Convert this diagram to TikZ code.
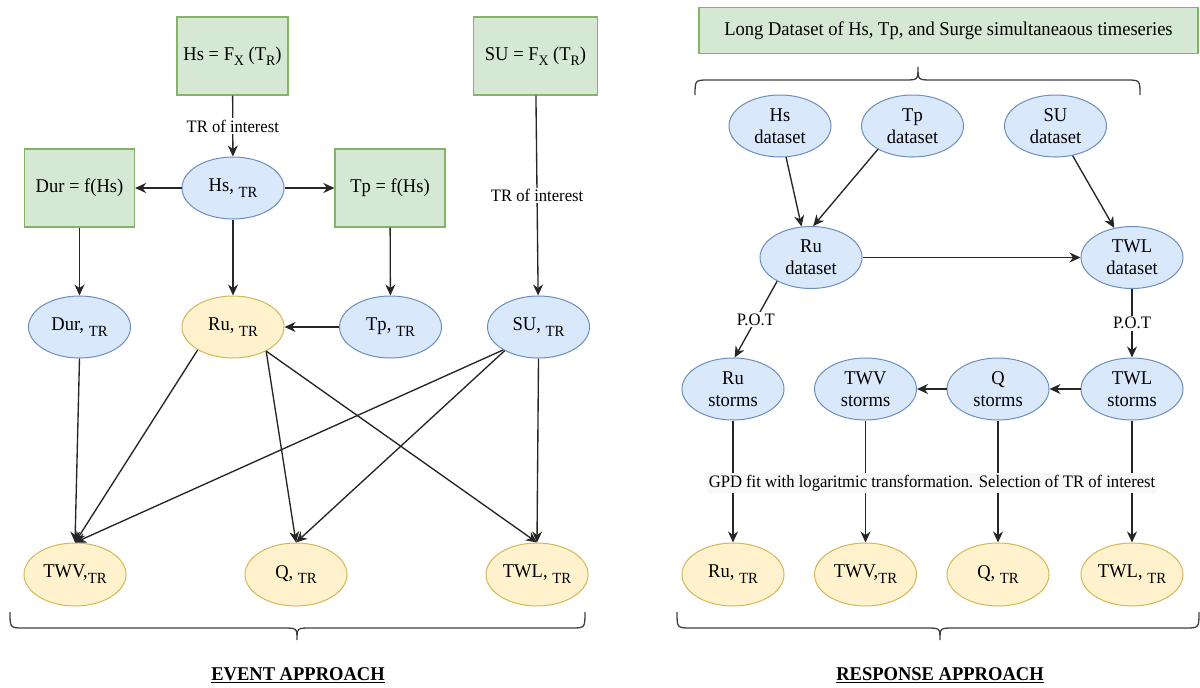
\documentclass[tikz,border=0pt]{standalone}
\usepackage{fontspec}
\setmainfont{Liberation Serif}[FakeStretch=0.95]
\usetikzlibrary{arrows.meta,shapes.geometric}
\definecolor{gfill}{HTML}{D5E8D4}
\definecolor{gdraw}{HTML}{82B366}
\definecolor{bfill}{HTML}{DAE8FC}
\definecolor{bdraw}{HTML}{6C8EBF}
\definecolor{yfill}{HTML}{FFF2CC}
\definecolor{ydraw}{HTML}{D6B656}
\definecolor{lblbg}{HTML}{F8F8F8}
\newcommand\sbx[1]{\raisebox{-0.65ex}{\fontsize{15.5}{15.5}\selectfont #1}}
\newcommand\ssb[1]{\raisebox{-0.6ex}{\fontsize{14.5}{14.5}\selectfont #1}}
\begin{document}
\begin{tikzpicture}[x=1pt,y=-1pt,
  txt/.style={font=\fontsize{19.5}{22}\selectfont},
  gbox/.style={txt,rectangle,draw=gdraw,fill=gfill,line width=1.2pt,inner sep=0pt,minimum width=111pt,minimum height=78pt},
  bell/.style={txt,ellipse,draw=bdraw,fill=bfill,line width=1pt,inner sep=0pt,minimum width=102pt,minimum height=62pt,align=center},
  yell/.style={bell,draw=ydraw,fill=yfill},
  arr/.style={draw=black!85,line width=1.35pt,-{Stealth[length=11pt,width=10pt,inset=3.5pt]}},
  lbl/.style={font=\fontsize{17.5}{18}\selectfont,fill=white,inner sep=1.5pt},
  brace/.style={draw=black!75,line width=1.3pt},
  head/.style={font=\fontsize{19.5}{20}\selectfont\bfseries}
]
\useasboundingbox (0,0) rectangle (1200,688);

% ---------- EVENT APPROACH ----------
\node[gbox] (hsf) at (232.5,56) {Hs = F\ssb{X} (T\ssb{R})};
\node[gbox,minimum width=124pt] (suf) at (535.5,56) {SU = F\ssb{X} (T\ssb{R})};
\node[gbox,minimum width=110pt] (durf) at (79.5,188) {Dur = f(Hs)};
\node[bell] (hstr) at (233,188) {Hs, \sbx{TR}};
\node[gbox,minimum width=110pt] (tpf) at (390,188) {Tp = f(Hs)};
\node[bell] (durtr) at (79.5,327) {Dur, \sbx{TR}};
\node[yell] (rutr) at (233,327) {Ru, \sbx{TR}};
\node[bell] (tptr) at (390.5,327) {Tp, \sbx{TR}};
\node[bell] (sutr) at (538.5,327) {SU, \sbx{TR}};
\node[yell,minimum height=63pt] (twvtr) at (75,574.5) {TWV,\sbx{TR}};
\node[yell,minimum height=63pt] (qtr) at (296,574.5) {Q, \sbx{TR}};
\node[yell,minimum height=63pt] (twltr) at (537,574.5) {TWL, \sbx{TR}};

\draw[arr] (hsf) -- node[lbl] (l1) {TR of interest} (hstr);
\draw[arr] (suf) -- node[lbl] (l2) {TR of interest} (sutr);
\draw[arr] (hstr) -- (durf);
\draw[arr] (hstr) -- (tpf);
\draw[arr] (durf) -- (durtr);
\draw[arr] (hstr) -- (rutr);
\draw[arr] (tpf) -- (tptr);
\draw[arr] (tptr) -- (rutr);
\draw[arr] (durtr.south) -- (twvtr.north);
\draw[arr] (rutr.-147) -- (twvtr.north);
\draw[arr] (sutr.-147) -- (twvtr.north);
\draw[arr] (rutr.-36) -- (qtr.north);
\draw[arr] (sutr.-145) -- (qtr.north);
\draw[arr] (rutr.-36) -- (twltr.north);
\draw[arr] (sutr.south) -- (twltr.north);

\draw[brace] (10,612) .. controls (10,628) .. (24,628) -- (283,628) .. controls (297,628) .. (297,640)
  .. controls (297,628) .. (311,628) -- (571,628) .. controls (585,628) .. (585,612);
\node[head] (evt) at (298,675) {\underline{EVENT APPROACH}};

% ---------- RESPONSE APPROACH ----------
\node[gbox,minimum width=499pt,minimum height=46pt] (long) at (948.5,30.5) {Long Dataset of Hs, Tp, and Surge simultaneaous timeseries};
\draw[brace] (695,95) .. controls (695,80) .. (709,80) -- (904,80) .. controls (918,80) .. (918,67)
  .. controls (918,80) .. (932,80) -- (1126,80) .. controls (1140,80) .. (1140,95);

\node[bell] (hsd) at (780,126) {Hs\\dataset};
\node[bell] (tpd) at (912.5,126) {Tp\\dataset};
\node[bell] (sud) at (1055.5,126) {SU\\dataset};
\node[bell] (rud) at (811,257.5) {Ru\\dataset};
\node[bell] (twld) at (1132,257.5) {TWL\\dataset};
\node[bell] (rus) at (733,389) {Ru\\storms};
\node[bell] (twvs) at (865.5,389) {TWV\\storms};
\node[bell] (qs) at (998,389) {Q\\storms};
\node[bell] (twls) at (1132,389) {TWL\\storms};
\node[yell,minimum height=63pt] (rutrb) at (733,574.5) {Ru, \sbx{TR}};
\node[yell,minimum height=63pt] (twvtrb) at (865.5,574.5) {TWV,\sbx{TR}};
\node[yell,minimum height=63pt] (qtrb) at (998,574.5) {Q, \sbx{TR}};
\node[yell,minimum height=63pt] (twltrb) at (1132,574.5) {TWL, \sbx{TR}};

\draw[arr] (hsd.-79) -- (rud.107);
\draw[arr] (tpd.-146) -- (rud.86);
\draw[arr] (sud.-60) -- (twld.121);
\draw[arr] (rud) -- (twld);
\draw[arr] (rud.-145) -- node[lbl] (p1) {P.O.T} (rus.87);
\draw[arr] (twld) -- node[lbl] (p2) {P.O.T} (twls);
\draw[arr] (twls) -- (qs);
\draw[arr] (qs) -- (twvs);
\draw[arr] (rus) -- (rutrb);
\draw[arr] (twvs) -- (twvtrb);
\draw[arr] (qs) -- (qtrb);
\draw[arr] (twls) -- (twltrb);
\node[lbl,fill=lblbg,inner sep=2pt] (gpd) at (932,483) {GPD fit with logaritmic transformation. Selection of TR of interest};

\draw[brace] (677,612) .. controls (677,628) .. (691,628) -- (926,628) .. controls (940,628) .. (940,640)
  .. controls (940,628) .. (954,628) -- (1185,628) .. controls (1199,628) .. (1199,612);
\node[head] (resp) at (940,675) {\underline{RESPONSE APPROACH}};
\end{tikzpicture}
\end{document}
